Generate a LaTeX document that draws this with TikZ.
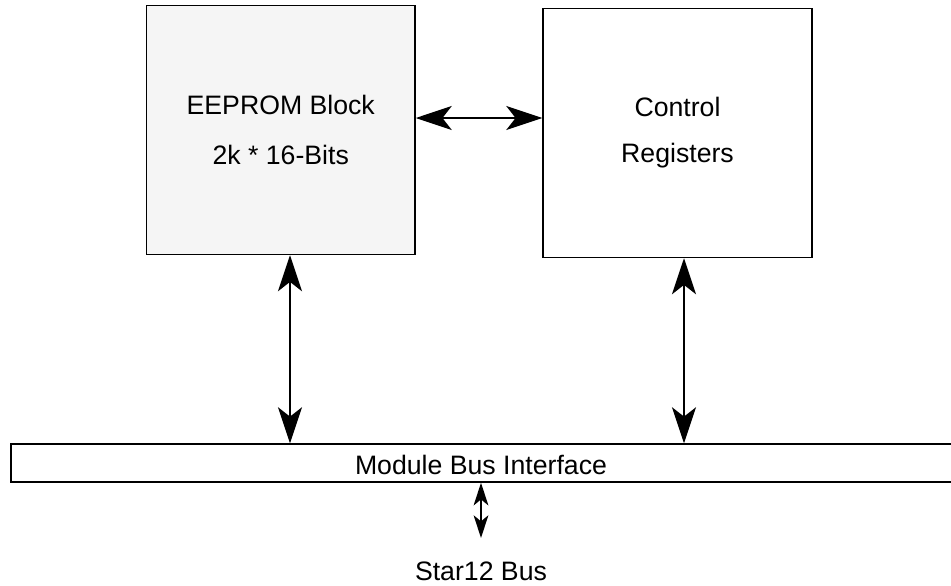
\documentclass[tikz,border=0pt]{standalone}
\usepackage{fontspec}
\setmainfont{Liberation Sans}
\usetikzlibrary{arrows.meta}
\definecolor{blockfill}{HTML}{F5F5F5}
\tikzset{
  box/.style={draw=black, line width=1.1pt, rectangle, inner sep=0pt, align=center,
              font=\fontsize{20}{23}\selectfont},
  lbl/.style={inner sep=0pt, font=\fontsize{20}{23}\selectfont},
  bigarr/.style={line width=1.5pt, {Stealth[length=27pt,width=18pt,inset=7pt]}-{Stealth[length=27pt,width=18pt,inset=7pt]}},
  smallarr/.style={line width=1.3pt, {Stealth[length=17pt,width=11pt,inset=4.5pt]}-{Stealth[length=17pt,width=11pt,inset=4.5pt]}}
}
\begin{document}
\begin{tikzpicture}[x=0.75pt, y=-0.75pt]
\useasboundingbox (0,0) rectangle (951,586);
\clip (0,0) rectangle (951,586);
\node[box, fill=blockfill, minimum width=201.4pt, minimum height=186.75pt] (eeprom) at (280.75,130)
  {\raisebox{-1.5pt}{EEPROM Block}\\[15.5pt]2k * 16-Bits};
\node[box, minimum width=201.75pt, minimum height=186.75pt] (control) at (677.5,133)
  {Control\\[11.5pt]Registers};
\node[box, minimum width=735pt, minimum height=28.5pt] (bus) at (501,463) {};
\node[lbl] (buslabel) at (481,465) {Module Bus Interface};
\node[lbl] (star) at (481,571) {Star12 Bus};
\coordinate (h) at (0,118);
\coordinate (v1) at (290,0);
\coordinate (v2) at (684,0);
\coordinate (s) at (481,538);
\draw[bigarr] (eeprom.east |- h) -- (control.west |- h);
\draw[bigarr] (v1 |- eeprom.south) -- (v1 |- bus.north);
\draw[bigarr] (v2 |- control.south) -- (v2 |- bus.north);
\draw[smallarr] (bus.south -| s) -- (s);
\end{tikzpicture}
\end{document}
